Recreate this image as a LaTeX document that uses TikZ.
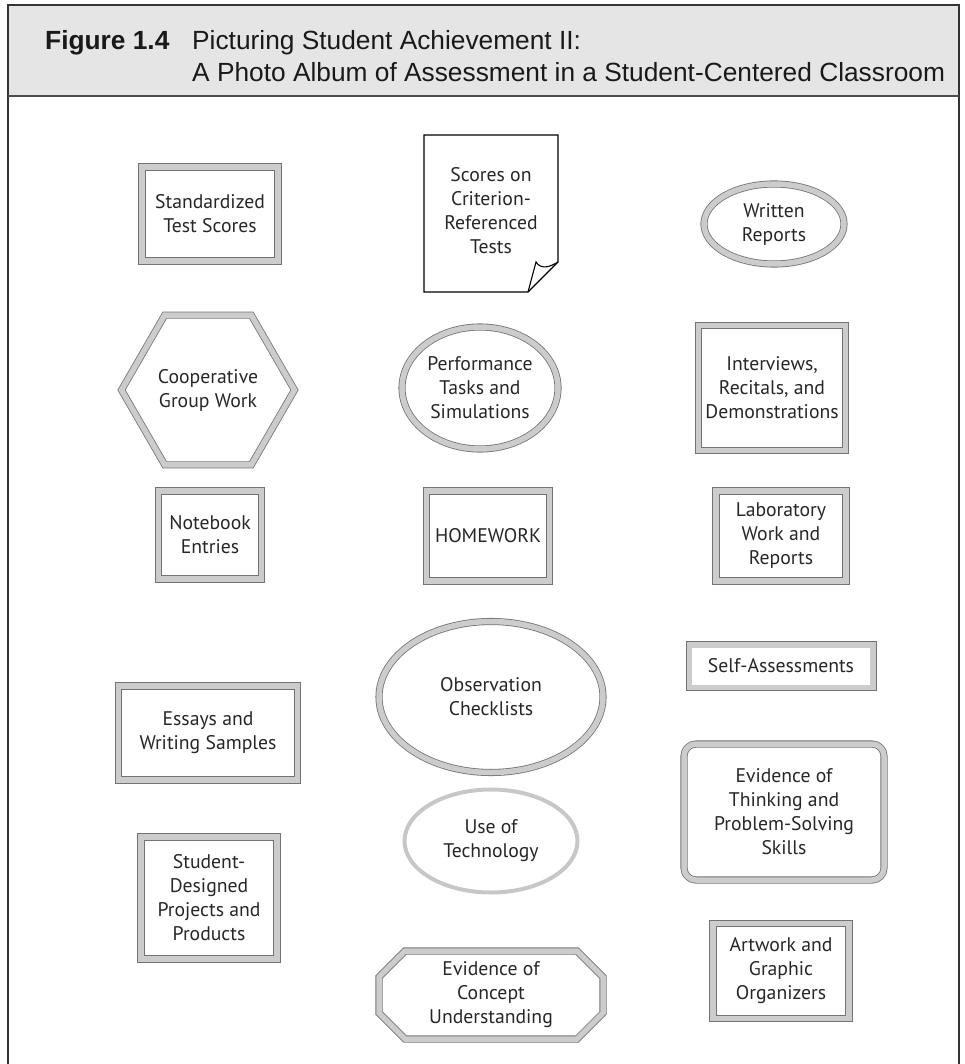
\documentclass[tikz,border=0pt]{standalone}
\usepackage{fontspec}
\setmainfont{PT Sans}
\newfontfamily\headfont{Liberation Sans}
\usetikzlibrary{shapes.geometric}

\begin{document}
\begin{tikzpicture}[x=1pt, y=-1pt,
    every node/.style={font=\fontsize{19.7}{24}\selectfont, align=center, text=black!85, inner sep=0pt},
    dbl/.style={draw=black!55, line width=0.8pt, double=black!20, double distance=5.5pt},
    box/.style={dbl, rectangle},
    oval/.style={dbl, ellipse},
    head/.style={font=\headfont\fontsize{26.3}{30}\selectfont, anchor=base west, text=black!90}]

  \useasboundingbox (0,0) rectangle (964,1064);
  \fill[black!10] (8,5) rectangle (959,96);
  \draw[black!80, line width=1.2pt] (8,1064) -- (8,5) -- (959,5) -- (959,1064);
  \draw[black!70, line width=1.2pt] (8,96) -- (959,96);

  \node[head] (fig) at (45,50) {\bfseries Figure 1.4};
  \node[head] (titleA) at (192,50) {Picturing Student Achievement II:};
  \node[head] (titleB) at (192,82) {A Photo Album of Assessment in a Student-Centered Classroom};

  \node[box, minimum width=136pt, minimum height=94pt] (std) at (210,214) {Standardized\\Test Scores};
  \draw[black, line width=1.3pt] (424,135) -- (558,135) -- (558,262) -- (528,292) -- (424,292) -- cycle;
  \draw[black, line width=1.1pt] (528,292) -- (536,262) .. controls (541,270) and (550,267) .. (558,262);
  \node (crit) at (491,211) {Scores on\\Criterion-\\Referenced\\Tests};
  \node[oval, minimum width=140pt, minimum height=80pt] (written) at (774,224) {Written\\Reports};

  \node[dbl, regular polygon, regular polygon sides=6, minimum size=173pt] (coop) at (208,390) {};
  \node (cooptxt) at (208,390) {Cooperative\\Group Work};
  \node[oval, minimum width=156pt, minimum height=122pt] (perf) at (480,388) {Performance\\Tasks and\\Simulations};
  \node[box, minimum width=147pt, minimum height=125pt] (interv) at (772,388) {Interviews,\\Recitals, and\\Demonstrations};

  \node[box, minimum width=103pt, minimum height=88pt] (notebook) at (210,535) {Notebook\\Entries};
  \node[box, minimum width=123pt, minimum height=90pt] (homework) at (488,536) {HOMEWORK};
  \node[box, minimum width=130pt, minimum height=90pt] (lab) at (781,536) {Laboratory\\Work and\\Reports};

  \node[draw=black!55, line width=0.8pt, fill=black!20, minimum width=190pt, minimum height=49pt,
    path picture={\fill[white] ([shift={(6pt,6pt)}]path picture bounding box.south west) rectangle ([shift={(-6pt,-6pt)}]path picture bounding box.north east);}]
    (selfas) at (781,666) {Self-Assessments};
  \node[oval, minimum width=224pt, minimum height=151pt] (obs) at (491,697) {Observation\\Checklists};
  \node[box, minimum width=179pt, minimum height=94pt] (essays) at (208,733) {Essays and\\Writing Samples};

  \node[draw=black!22, line width=4pt, ellipse, minimum width=173pt, minimum height=103pt] (tech) at (491,841) {Use of\\Technology};
  \node[box, rounded corners=12pt, minimum width=200pt, minimum height=136pt] (thinking) at (784,812) {Evidence of\\Thinking and\\Problem-Solving\\Skills};

  \node[box, minimum width=136pt, minimum height=122pt] (stud) at (209,898) {Student-\\Designed\\Projects and\\Products};
  \draw[dbl] (405,951) -- (577,951) -- (603,977) -- (603,1013) -- (577,1039) -- (405,1039) -- (379,1013) -- (379,977) -- cycle;
  \node (concept) at (491,995) {Evidence of\\Concept\\Understanding};
  \node[box, minimum width=136pt, minimum height=95pt] (artwork) at (781,971) {Artwork and\\Graphic\\Organizers};
\end{tikzpicture}
\end{document}
